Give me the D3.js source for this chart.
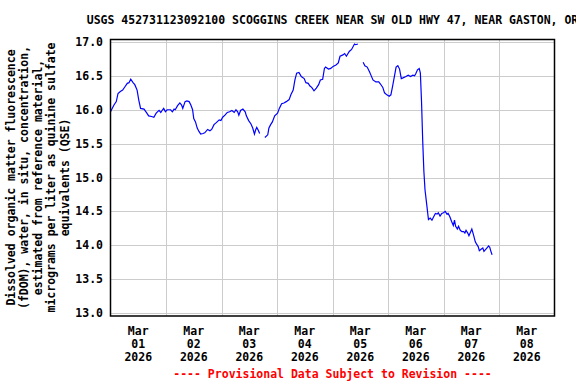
<!DOCTYPE html>
<html>
<head>
<meta charset="utf-8">
<script src="https://cdn.jsdelivr.net/npm/d3@7"></script>
<style>
  body { margin: 0; background: #fff; }
  svg text { font-family: "DejaVu Sans Mono", monospace; font-weight: bold; font-size: 11.5px; fill: #000; }
</style>
</head>
<body>
<svg width="576" height="384"></svg>
<script>
// hours after 2026-03-01 00:00, fDOM value (null = gap in record)
const hours = [
  0, 1.5, 2.5, 3.25, 4.25, 5.25, 6.25, 7.25, 8, 8.75, 9.75, 10.5, 11.5, 12.25, 13, 14.5,
  15.5, 16.5, 17.75, 18.75, 19.75, 21, 21.75, 22.5, 23, 23.75, 24.5, 26, 26.75, 27.5, 28,
  29, 30, 30.75, 31.25, 32.25, 33, 34, 34.75, 35.5, 36, 36.75, 37.5, 38.25, 39, 40, 40.75,
  42, 43, 43.75, 44.75, 45.75, 47, 47.75, 48.5, 49.5, 50.5, 51.5, 52.5, 53.5, 54.25, 55,
  55.5, 56.25, 57.25, 58.25, 58.75, 59.75, 60.75, 61.5, 62.25, 62.75, 63.25, 64, 64.5,
  65.5,
  66.75, 68, 68.5, 69.25, 70, 71, 72.25, 73, 74, 75, 76, 77.25, 78, 79, 79.75, 80.5, 81.5,
  82.5, 83.75, 84.5, 85.5, 86.25, 87, 88, 89, 90, 90.75, 91.75, 92.5, 93, 94.25, 95.25,
  96.25, 97.5, 98.5, 99.25, 100.5, 101.25, 102, 103.25, 104.25, 105.5, 106, 107,
  108,
  109.25, 110, 111, 112, 112.75, 113.5, 114.75, 116, 116.75, 117.75, 118.5, 119.5, 120.5,
  121.25, 122, 122.75, 123.5, 124.25, 125, 125.75, 126.5, 127.75, 128.75, 129.75, 130.75,
  131.5, 132, 132.75, 133.5, 134, 134.5, 135, 135.5, 136, 136.75, 137.25, 137.5, 138.25,
  139, 139.75, 140.5, 141.25, 141.75, 142.5, 143.25, 144, 144.75, 145.5, 146, 146.75,
  147.5, 148.25, 148.75, 149.25, 150, 150.5, 151.25, 152, 152.75, 153.25, 153.75, 154.5,
  155, 155.75, 156.25, 157, 157.75, 158.25, 159, 159.5, 160.25, 161, 161.5, 162.25, 163,
  163.5, 164, 164.5, 165
];
const fdom = [
  15.97, 16.07, 16.12, 16.24, 16.27, 16.29, 16.34, 16.39, 16.40, 16.45, 16.40, 16.37, 16.29,
  16.14, 16.02, 16.01, 15.96, 15.91, 15.90, 15.89, 15.95, 15.99, 15.96, 16.00, 16.02, 15.97,
  16.00, 16.00, 15.97, 16.01, 16.00, 16.06, 16.10, 16.07, 16.02, 16.12, 16.13, 16.12, 16.07,
  16.00, 15.87, 15.82, 15.73, 15.68, 15.64, 15.65, 15.66, 15.71, 15.69, 15.71, 15.78, 15.81,
  15.85, 15.84, 15.89, 15.92, 15.96, 15.97, 15.99, 15.96, 16.00, 15.97, 15.92, 15.99, 16.01,
  15.97, 15.91, 15.84, 15.79, 15.73, 15.64, 15.70, 15.74, 15.69, 15.65,
  null,
  15.59, 15.63, 15.73, 15.78, 15.82, 15.91, 15.95, 16.02, 16.09, 16.10, 16.12, 16.15, 16.22,
  16.29, 16.44, 16.54, 16.55, 16.49, 16.46, 16.40, 16.39, 16.35, 16.33, 16.28, 16.32, 16.37,
  16.44, 16.45, 16.61, 16.63, 16.60, 16.61, 16.64, 16.66, 16.69, 16.79, 16.81, 16.83, 16.79,
  16.86, 16.89, 16.97, 16.96, 16.97,
  null,
  16.70, 16.65, 16.63, 16.56, 16.50, 16.44, 16.41, 16.41, 16.38, 16.33, 16.25, 16.22, 16.20,
  16.22, 16.35, 16.49, 16.63, 16.65, 16.60, 16.46, 16.47, 16.49, 16.51, 16.49, 16.51, 16.50,
  16.53, 16.59, 16.61, 16.54, 16.12, 15.55, 15.10, 14.82, 14.60, 14.45, 14.38, 14.40, 14.37,
  14.42, 14.47, 14.46, 14.48, 14.43, 14.47, 14.48, 14.50, 14.46, 14.47, 14.42, 14.35, 14.29,
  14.37, 14.28, 14.24, 14.28, 14.22, 14.20, 14.20, 14.18, 14.22, 14.18, 14.14, 14.20, 14.24,
  14.15, 14.05, 14.02, 13.98, 13.92, 13.94, 13.96, 13.91, 13.94, 13.97, 13.99, 13.97, 13.91,
  13.86
];
const yTicks = [13.0, 13.5, 14.0, 14.5, 15.0, 15.5, 16.0, 16.5, 17.0];
const dayLabels = ["01", "02", "03", "04", "05", "06", "07", "08"];
const titleText = "USGS 452731123092100 SCOGGINS CREEK NEAR SW OLD HWY 47, NEAR GASTON, OR";
const yLabelLines = [
  "Dissolved organic matter fluorescence",
  "(fDOM), water, in situ, concentration,",
  "estimated from reference material,",
  "micrograms per liter as quinine sulfate",
  "equivalents (QSE)"
];
const footText = "---- Provisional Data Subject to Revision ----";

const start = new Date(Date.UTC(2026, 2, 1));
const end = new Date(Date.UTC(2026, 2, 9));
const data = hours.map((h, i) => ({ t: new Date(start.getTime() + h * 3600e3), v: fdom[i] }));

const plotLeft = 110.5, plotRight = 554.5, plotTop = 39.5, plotBottom = 316;
const svg = d3.select("svg");

const x = d3.scaleUtc().domain([start, end]).range([plotLeft, plotRight]);
const y = d3.scaleLinear().domain([13, 17]).range([313, 42]);

// gridlines
svg.append("g")
  .selectAll("line")
  .data(yTicks)
  .join("line")
  .attr("x1", plotLeft).attr("x2", plotRight)
  .attr("y1", (d) => Math.round(y(d)) + 0.5)
  .attr("y2", (d) => Math.round(y(d)) + 0.5)
  .attr("stroke", "#cccccc");

const days = d3.utcDay.range(d3.utcDay.offset(start, 1), end);
svg.append("g")
  .selectAll("line")
  .data(days)
  .join("line")
  .attr("x1", (d) => Math.round(x(d)) + 0.5)
  .attr("x2", (d) => Math.round(x(d)) + 0.5)
  .attr("y1", plotTop).attr("y2", plotBottom)
  .attr("stroke", "#cccccc");

// data line
const line = d3.line()
  .defined((d) => d.v !== null)
  .x((d) => x(d.t))
  .y((d) => y(d.v));

svg.append("path")
  .datum(data)
  .attr("d", line)
  .attr("fill", "none")
  .attr("stroke", "#0000ff")
  .attr("stroke-width", 1.2);

// frame
svg.append("rect")
  .attr("x", plotLeft).attr("y", plotTop)
  .attr("width", plotRight - plotLeft).attr("height", plotBottom - plotTop)
  .attr("fill", "none")
  .attr("stroke", "#000")
  .attr("stroke-width", 1.5);

// y tick labels
svg.append("g")
  .selectAll("text")
  .data(yTicks)
  .join("text")
  .attr("x", 103)
  .attr("y", (d) => y(d) + 4)
  .attr("text-anchor", "end")
  .text((d) => d3.format(".1f")(d));

// x tick labels at noon of each day
const noon = dayLabels.map((d, i) => d3.utcHour.offset(d3.utcDay.offset(start, i), 12));
const xl = svg.append("g")
  .selectAll("text")
  .data(noon)
  .join("text")
  .attr("text-anchor", "middle");
xl.append("tspan").attr("x", (d) => x(d)).attr("y", 335).text("Mar");
xl.append("tspan").attr("x", (d) => x(d)).attr("y", 348).text((d, i) => dayLabels[i]);
xl.append("tspan").attr("x", (d) => x(d)).attr("y", 361).text((d) => d.getUTCFullYear());

// title
svg.append("text")
  .attr("x", (plotLeft + plotRight) / 2)
  .attr("y", 24)
  .attr("text-anchor", "middle")
  .text(titleText);

// y axis label
const midY = (y(13) + y(17)) / 2;
svg.append("g")
  .selectAll("text")
  .data(yLabelLines)
  .join("text")
  .attr("transform", (d, i) => `translate(${15 + i * 13.4},${midY}) rotate(-90)`)
  .attr("text-anchor", "middle")
  .text((d) => d);

// provisional note
svg.append("text")
  .attr("x", (plotLeft + plotRight) / 2)
  .attr("y", 378)
  .attr("text-anchor", "middle")
  .style("fill", "#ff0000")
  .text(footText);
</script>
</body>
</html>
